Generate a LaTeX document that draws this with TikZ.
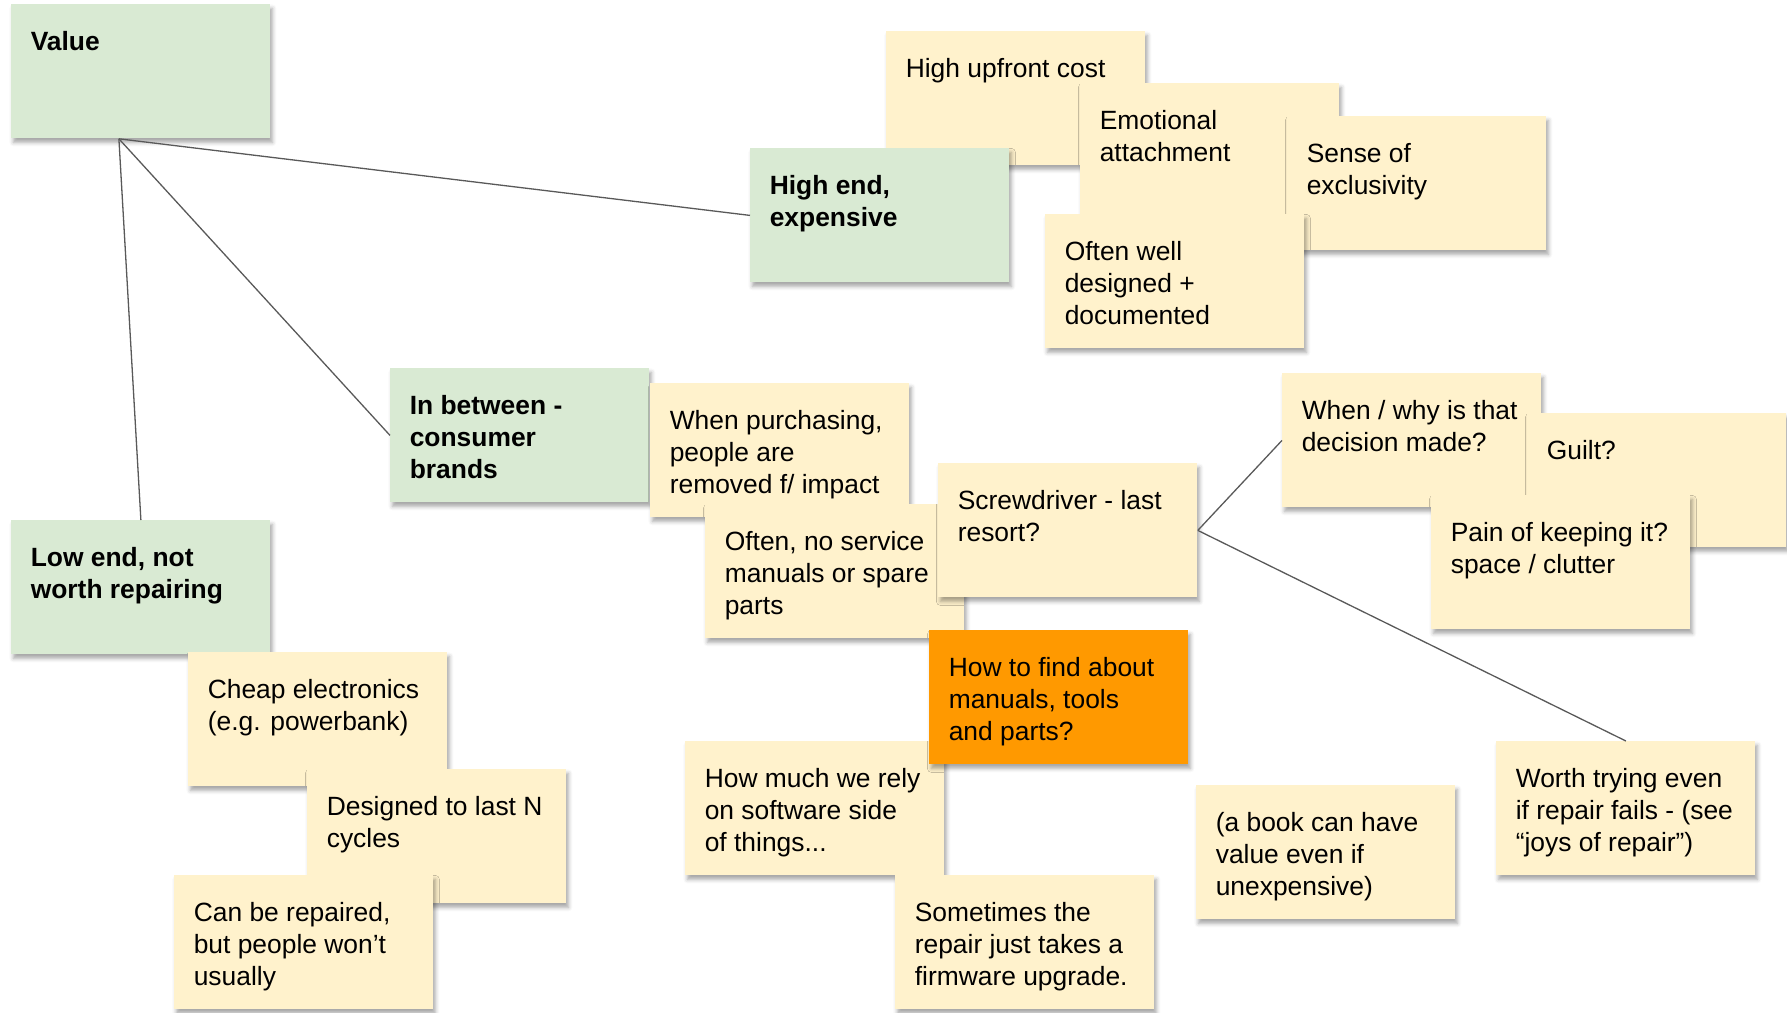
\documentclass[tikz,border=0pt]{standalone}
\usepackage{fontspec}
\setmainfont{Liberation Sans}
\usetikzlibrary{shadows.blur}
\definecolor{notegreen}{HTML}{D9EAD3}
\definecolor{noteyellow}{HTML}{FFF2CC}
\definecolor{noteorange}{HTML}{FF9900}
\definecolor{linkgrey}{HTML}{595959}
\newcommand{\notetxt}[1]{\parbox[t][67pt][t]{129.5pt}{\raggedright\leftskip=9.7pt\rule{0pt}{23pt}#1}}
\tikzset{
  note/.style={anchor=north west, inner sep=0pt, minimum width=129.5pt, minimum height=67pt,
    fill=noteyellow, font=\fontsize{13.2pt}{16pt}\selectfont,
    blur shadow={shadow xshift=1pt, shadow yshift=-2pt, shadow blur radius=2pt, shadow opacity=35}},
  topic/.style={note, fill=notegreen, font=\fontsize{13.2pt}{16pt}\selectfont\bfseries},
  question/.style={note, fill=noteorange},
  link/.style={draw=linkgrey, line width=0.65pt}
}
\begin{document}
\begin{tikzpicture}[x=0.5pt,y=-0.5pt]
\useasboundingbox (0,0) rectangle (1787,1012);
\node[topic] (Value) at (11,4) {\notetxt{Value}};
\node[note] (Upfront) at (886,31) {\notetxt{High upfront cost}};
\node[topic] (HighEnd) at (750,148) {\notetxt{High end,\\expensive}};
\node[note] (Emotional) at (1080,83) {\notetxt{Emotional\\attachment}};
\node[note] (Exclusive) at (1287,116) {\notetxt{Sense of\\exclusivity}};
\node[note] (Designed) at (1045,214) {\notetxt{Often well\\designed +\\documented}};
\node[topic] (Between) at (390,368) {\notetxt{In between -\\consumer\\brands}};
\node[note] (Purchase) at (650,383) {\notetxt{When purchasing,\\people are\\removed f/ impact}};
\node[note] (NoManual) at (705,504) {\notetxt{Often, no service\\manuals or spare\\parts}};
\node[note] (Screw) at (938,463) {\notetxt{Screwdriver - last\\resort?}};
\node[note] (WhenWhy) at (1282,373) {\notetxt{When / why is that\\decision made?}};
\node[note] (Guilt) at (1527,413) {\notetxt{Guilt?}};
\node[note] (Pain) at (1431,495) {\notetxt{Pain of keeping it?\\space / clutter}};
\node[topic] (LowEnd) at (11,520) {\notetxt{Low end, not\\worth repairing}};
\node[note] (Cheap) at (188,652) {\notetxt{Cheap electronics\\(e.g. powerbank)}};
\node[note] (Cycles) at (307,769) {\notetxt{Designed to last N\\cycles}};
\node[note] (Wont) at (174,875) {\notetxt{Can be repaired,\\but people won’t\\usually}};
\node[note] (Software) at (685,741) {\notetxt{How much we rely\\on software side\\of things...}};
\node[question] (HowFind) at (929,630) {\notetxt{How to find about\\manuals, tools\\and parts?}};
\node[note] (Firmware) at (895,875) {\notetxt{Sometimes the\\repair just takes a\\firmware upgrade.}};
\node[note] (Book) at (1196,785) {\notetxt{(a book can have\\value even if\\unexpensive)}};
\node[note] (Worth) at (1496,741) {\notetxt{Worth trying even\\if repair fails - (see\\“joys of repair”)}};
\coordinate (root) at ([xshift=-11pt]Value.south);
\draw[link] (root) -- (HighEnd.west);
\draw[link] (root) -- (Between.west);
\draw[link] (root) -- (LowEnd.north);
\draw[link] (Screw.east) -- (WhenWhy.west);
\draw[link] (Screw.east) -- (Worth.north);
\end{tikzpicture}
\end{document}
